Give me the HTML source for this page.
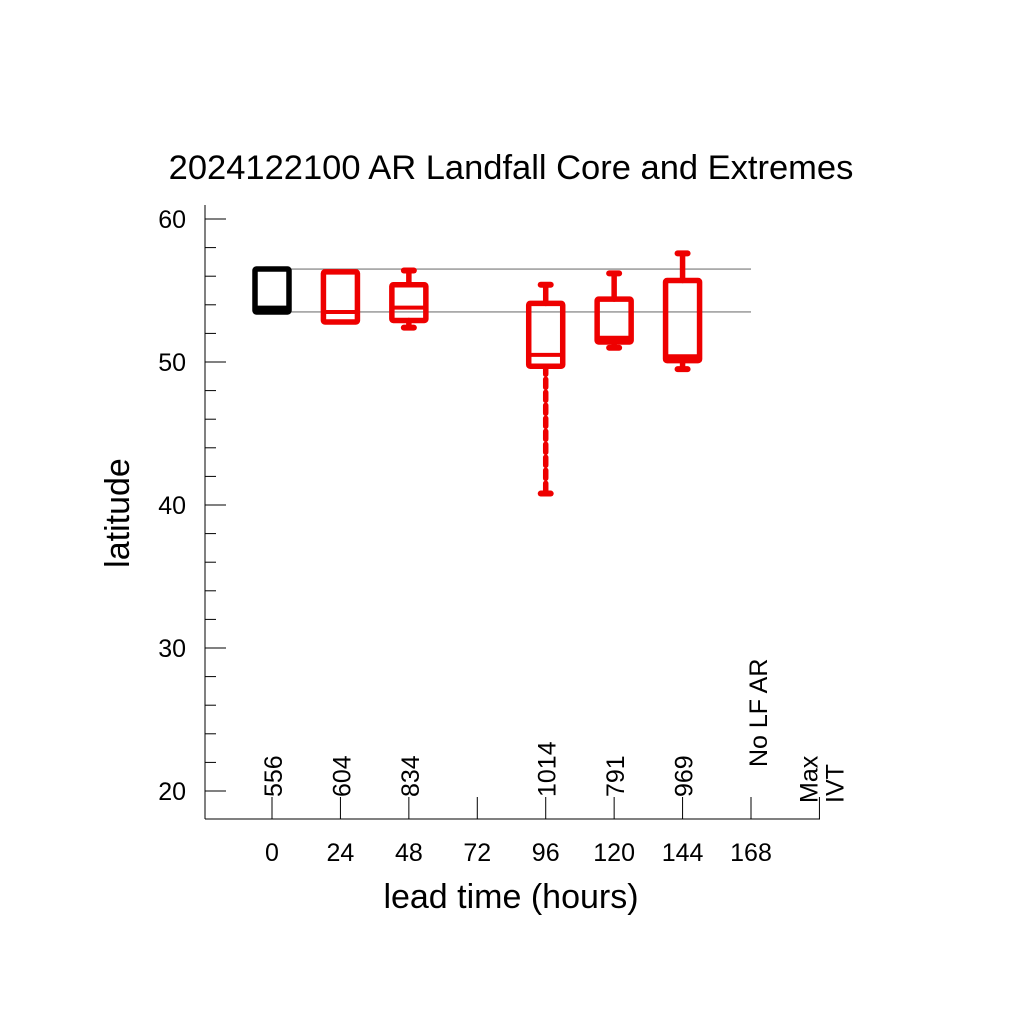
<!DOCTYPE html>
<html><head><meta charset="utf-8"><style>
body{margin:0;background:#fff}
svg{display:block;font-family:"Liberation Sans",sans-serif}
</style></head><body>
<svg id="c" width="1024" height="1024" viewBox="0 0 1024 1024">
<text x="511" y="179" text-anchor="middle" font-size="34.5">2024122100 AR Landfall Core and Extremes</text>
<text transform="translate(129,513) rotate(-90)" text-anchor="middle" font-size="34">latitude</text>
<text x="511" y="908" text-anchor="middle" font-size="34">lead time (hours)</text>
<g id="axes"></g><g id="marks"></g>
</svg>
<script>
const leads=[0,24,48,96,120,144];
const whiskTop=[56.5,56.3,56.4,55.4,56.2,57.6];
const boxTop=[56.5,56.3,55.4,54.1,54.4,55.7];
const medians=[53.8,53.5,53.8,50.5,51.7,50.4];
const boxBot=[53.5,52.8,52.9,49.7,51.4,50.1];
const whiskBot=[53.5,52.8,52.4,40.8,51.0,49.5];
const counts=["556","604","834","1014","791","969"];
const xTicks=[0,24,48,72,96,120,144,168];
const yTicks=[20,30,40,50,60];
const refLines=[56.5,53.5];
const X=h=>272+h*(751-272)/168;
const Y=v=>219+(60-v)*14.3;
const NS="http://www.w3.org/2000/svg";
const ax=document.getElementById('axes'),mk=document.getElementById('marks');
function el(t,a,p){const e=document.createElementNS(NS,t);for(const k in a)e.setAttribute(k,a[k]);p.appendChild(e);return e;}
let l=el('line',{x1:205,y1:205,x2:205,y2:819,stroke:'#000','stroke-width':1},ax);


l=el('line',{x1:205,y1:819,x2:820,y2:819,stroke:'#000','stroke-width':1},ax);


for(let v=20;v<=60;v+=2){const maj=v%10===0;
 const t=el('line',{x1:205,y1:Y(v),x2:maj?226:216,y2:Y(v),stroke:'#000','stroke-width':1},ax);
 
 }
yTicks.forEach(v=>{const t=el('text',{x:186,y:Y(v)+9,'text-anchor':'end','font-size':25},ax);t.textContent=v;
 
 });
xTicks.concat([192]).forEach(h=>{const t=el('line',{x1:X(h),y1:819,x2:X(h),y2:797,stroke:'#000','stroke-width':1},ax);
 
 });
xTicks.forEach(h=>{const t=el('text',{x:X(h),y:861,'text-anchor':'middle','font-size':25},ax);t.textContent=h;
 
 });
refLines.forEach(v=>{const t=el('line',{x1:X(0)+18,y1:Y(v),x2:X(168),y2:Y(v),stroke:'#777','stroke-width':1.2},ax);
 
 });
function rot(x,y,txt,name){const t=el('text',{transform:`translate(${x},${y}) rotate(-90)`,'font-size':25},ax);t.textContent=txt;
 
 }
leads.forEach((h,i)=>rot(X(h)+10,797,counts[i],'count-label'));
rot(X(168)+16,767,'No LF AR','no-lf-ar-label');
rot(X(192)-2,803,'Max','max-ivt-label');
rot(X(192)+24,803,'IVT','max-ivt-label');
leads.forEach((h,i)=>{
 const c=i===0?'#000':'#e00',x=X(h),g=el('g',{stroke:c,'stroke-width':5.5,fill:'none','stroke-linecap':'round'},mk);
 
 
 const w=17;
 if(whiskTop[i]>boxTop[i]){el('line',{x1:x,y1:Y(whiskTop[i]),x2:x,y2:Y(boxTop[i])},g);el('line',{x1:x-5,y1:Y(whiskTop[i]),x2:x+5,y2:Y(whiskTop[i]),'stroke-width':6},g);}
 if(whiskBot[i]<boxBot[i]){el('line',{x1:x,y1:Y(boxBot[i]),x2:x,y2:Y(whiskBot[i]),'stroke-dasharray':h===96?'8 5':'none'},g);el('line',{x1:x-5,y1:Y(whiskBot[i]),x2:x+5,y2:Y(whiskBot[i]),'stroke-width':6},g);}
 el('rect',{x:x-w,y:Y(boxTop[i]),width:2*w,height:Y(boxBot[i])-Y(boxTop[i]),rx:1.5},g);
 el('line',{x1:x-w,y1:Y(medians[i]),x2:x+w,y2:Y(medians[i]),'stroke-width':4},g);
});
</script>
</body></html>
